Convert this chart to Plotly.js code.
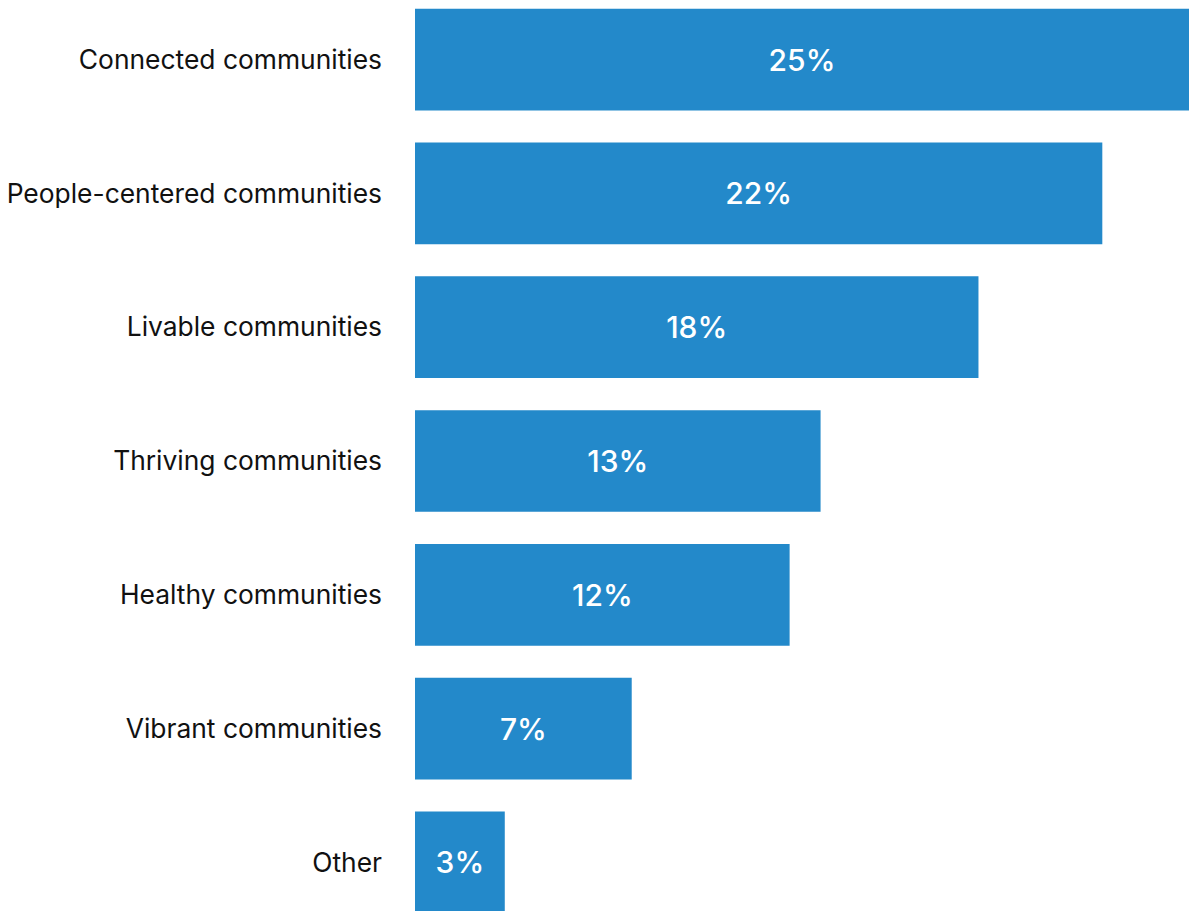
<!DOCTYPE html>
<html>
<head>
<meta charset="utf-8">
<script src="https://cdn.plot.ly/plotly-3.0.1.min.js"></script>
<style>html,body{margin:0;padding:0;background:#fff;}#chart{width:1189px;height:911px;}</style>
</head>
<body>
<div id="chart"></div>
<script>
const categories = ["Connected communities","People-centered communities","Livable communities","Thriving communities","Healthy communities","Vibrant communities","Other"];
const values = [25.0, 22.2, 18.2, 13.1, 12.1, 7.0, 2.9];
const valueLabels = ["25%","22%","18%","13%","12%","7%","3%"];

const trace = {
  type: "bar",
  orientation: "h",
  y: categories,
  x: values,
  text: valueLabels,
  textposition: "inside",
  insidetextanchor: "middle",
  textfont: {family: "Inter", size: 30, color: "#ffffff", weight: 500},
  marker: {color: "#2389CA"},
  width: 0.76,
  hoverinfo: "none",
  cliponaxis: false
};

const layout = {
  width: 1189, height: 911,
  margin: {l: 415, r: 0, t: 0, b: 0},
  paper_bgcolor: "#ffffff",
  plot_bgcolor: "#ffffff",
  showlegend: false,
  xaxis: {range: [0, 25], visible: false, fixedrange: true},
  yaxis: {
    type: "category",
    range: [6.363, -0.445],
    showgrid: false, zeroline: false, showline: false,
    ticks: "",
    ticklabelstandoff: 32,
    tickfont: {family: "Inter", size: 26.4, color: "#111111"},
    fixedrange: true
  },
  uniformtext: {mode: false}
};

Plotly.newPlot("chart", [trace], layout, {displayModeBar: false, staticPlot: true});
</script>
</body>
</html>
